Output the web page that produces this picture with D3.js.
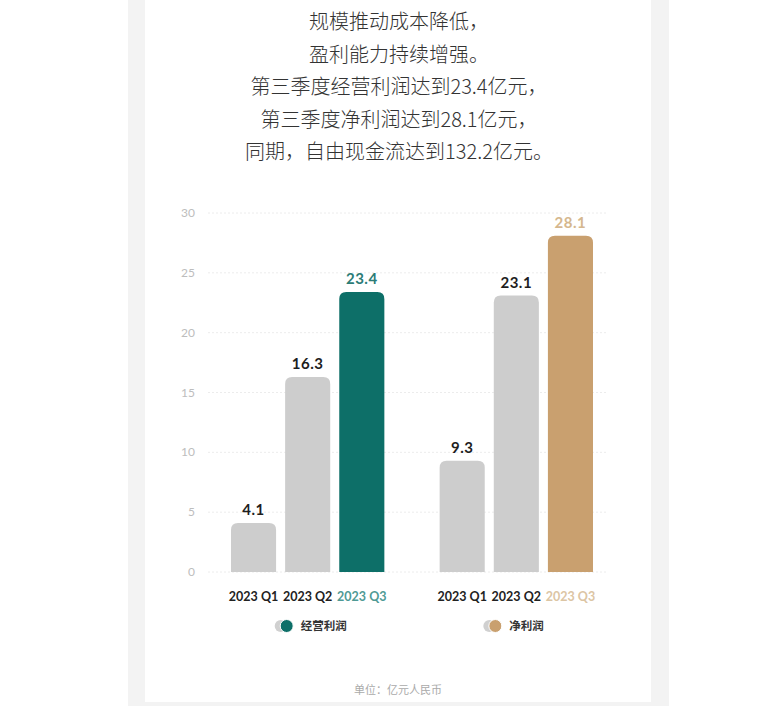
<!DOCTYPE html>
<html>
<head>
<meta charset="utf-8">
<script src="https://cdn.jsdelivr.net/npm/d3@7/dist/d3.min.js"></script>
<style>
  html, body { margin: 0; padding: 0; background: #fff; }
  svg { display: block; }
  .cjk { font-family: "Noto Sans CJK SC", "Noto Sans", sans-serif; }
  .num { font-family: "Lato", "Noto Sans", sans-serif; }
</style>
</head>
<body>
<svg id="chart" width="782" height="706"></svg>
<script>
// headline lines above the chart
const headline = [
  "规模推动成本降低，",
  "盈利能力持续增强。",
  "第三季度经营利润达到23.4亿元，",
  "第三季度净利润达到28.1亿元，",
  "同期，自由现金流达到132.2亿元。"
];

const groups = ["经营利润", "净利润"];
const quarters = ["2023 Q1", "2023 Q2", "2023 Q3"];
const operatingProfit = [4.1, 16.3, 23.4];
const netProfit = [9.3, 23.1, 28.1];
const yTicks = [0, 5, 10, 15, 20, 25, 30];
const unitNote = "单位：亿元人民币";

// colours per group: highlight bar, its label, its axis label
const accent = {
  "经营利润": { bar: "#0d6f68", label: "#2b7c76", tick: "#4f9a95" },
  "净利润": { bar: "#c9a06f", label: "#d5b78e", tick: "#dcc5a4" }
};
const grey = "#cdcdcd";

const svg = d3.select("#chart");

//page frame: grey strips either side of the white card
svg.append("rect").attr("x", 128).attr("y", 0).attr("width", 17).attr("height", 706).attr("fill", "#f3f3f3");
svg.append("rect").attr("x", 651).attr("y", 0).attr("width", 18).attr("height", 706).attr("fill", "#f3f3f3");
svg.append("rect").attr("x", 128).attr("y", 702).attr("width", 541).attr("height", 4).attr("fill", "#f3f3f3");

//headline
svg.append("g")
  .selectAll("text")
  .data(headline)
  .join("text")
  .attr("class", "cjk")
  .attr("x", 399)
  .attr("y", (d, i) => 29 + i * 32.5)
  .attr("text-anchor", "middle")
  .attr("font-size", 20)
  .attr("font-weight", 300)
  .attr("fill", "#333")
  .text(d => d);

const series = { "经营利润": operatingProfit, "净利润": netProfit };

const y = d3.scaleLinear().domain([0, 30]).range([572, 213]);
const x0 = d3.scaleBand().domain(groups).range([231, 593]).paddingInner(0.265);
const x1 = d3.scaleBand().domain(quarters).range([0, x0.bandwidth()]).paddingInner(0.167);

//gridlines + y labels
const yAxis = svg.append("g");
yAxis.selectAll("line")
  .data(yTicks)
  .join("line")
  .attr("x1", 208)
  .attr("x2", 608)
  .attr("y1", d => y(d))
  .attr("y2", d => y(d))
  .attr("stroke", "#ececec")
  .attr("stroke-width", 1)
  .attr("stroke-dasharray", "2,2");
yAxis.selectAll("text")
  .data(yTicks)
  .join("text")
  .attr("class", "num")
  .attr("x", 195)
  .attr("y", d => y(d) + 4)
  .attr("text-anchor", "end")
  .attr("font-size", 12)
  .attr("fill", "#bdbdbd")
  .text(d => d);

//bar with rounded top corners only
function topRounded(x, yTop, w, yBase, r) {
  r = Math.min(r, (yBase - yTop) / 2);
  return `M${x},${yBase}V${yTop + r}Q${x},${yTop} ${x + r},${yTop}H${x + w - r}Q${x + w},${yTop} ${x + w},${yTop + r}V${yBase}Z`;
}

groups.forEach(gName => {
  const rows = quarters.map((q, i) => ({ q, v: series[gName][i], last: i === quarters.length - 1 }));
  const g = svg.append("g").attr("transform", `translate(${x0(gName)},0)`);

  g.selectAll("path")
    .data(rows)
    .join("path")
    .attr("d", d => topRounded(x1(d.q), y(d.v), x1.bandwidth(), y(0), 7))
    .attr("fill", d => d.last ? accent[gName].bar : grey);

  g.selectAll("text.val")
    .data(rows)
    .join("text")
    .attr("class", "val num")
    .attr("x", d => x1(d.q) + x1.bandwidth() / 2)
    .attr("y", d => y(d.v) - 8)
    .attr("text-anchor", "middle")
    .attr("font-size", 15)
    .attr("font-weight", 700)
    .attr("letter-spacing", 0.5)
    .attr("fill", d => d.last ? accent[gName].label : "#1e1e1e")
    .text(d => d.v.toFixed(1));

  g.selectAll("text.cat")
    .data(rows)
    .join("text")
    .attr("class", "cat num")
    .attr("x", d => x1(d.q) + x1.bandwidth() / 2)
    .attr("y", 601)
    .attr("text-anchor", "middle")
    .attr("font-size", 12.5)
    .attr("font-weight", 700)
    .attr("fill", d => d.last ? accent[gName].tick : "#222")
    .text(d => d.q);

  //legend: grey dot behind coloured dot, then name
  const cx = x0(gName) + x0.bandwidth() / 2;
  const lg = svg.append("g").attr("transform", `translate(${cx - 27},626)`);
  lg.append("circle").attr("cx", 0).attr("cy", 0).attr("r", 6).attr("fill", "#d0d0d0");
  lg.append("circle").attr("cx", 6).attr("cy", 0).attr("r", 6.5).attr("fill", accent[gName].bar)
    .attr("stroke", "#fff").attr("stroke-width", 1);
  lg.append("text")
    .attr("class", "cjk")
    .attr("x", 20)
    .attr("y", 4)
    .attr("font-size", 11.5)
    .attr("font-weight", 700)
    .attr("fill", "#333")
    .text(gName);
});

//unit note
svg.append("text")
  .attr("class", "cjk")
  .attr("x", 398)
  .attr("y", 694)
  .attr("text-anchor", "middle")
  .attr("font-size", 11)
  .attr("fill", "#aaa")
  .text(unitNote);
</script>
</body>
</html>
